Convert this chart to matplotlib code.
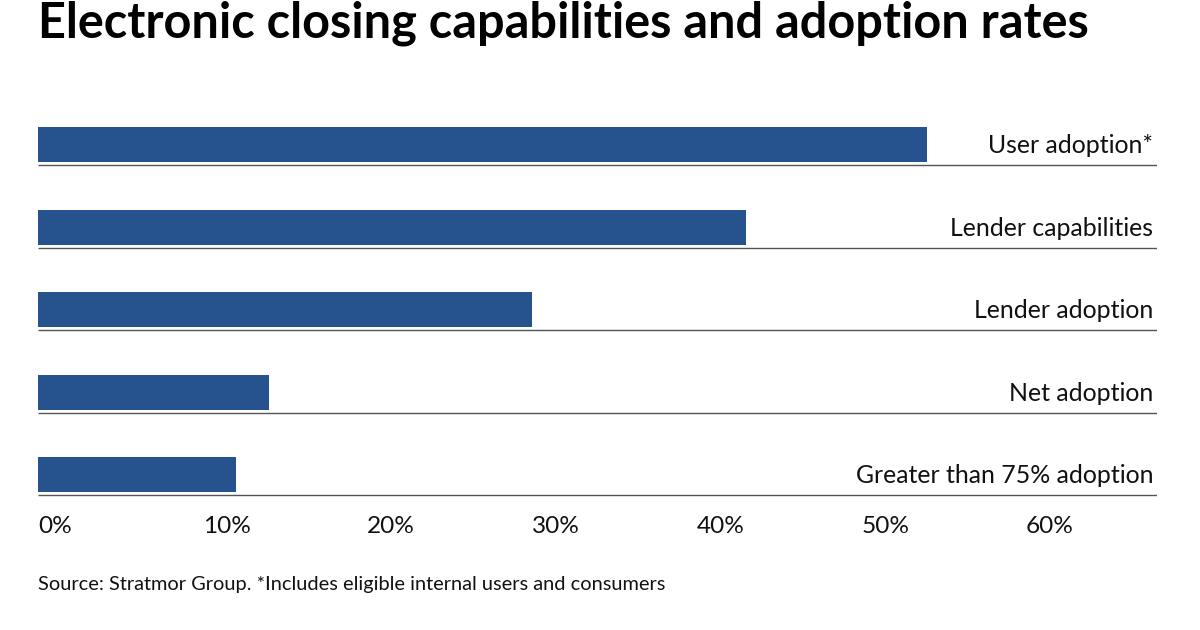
"""Electronic closing capabilities and adoption rates — horizontal bars."""

import matplotlib.pyplot as plt
import matplotlib.ticker as mticker

categories = [
    "User adoption*",
    "Lender capabilities",
    "Lender adoption",
    "Net adoption",
    "Greater than 75% adoption",
]
values = [54, 43, 30, 14, 12]
ticks = [0, 10, 20, 30, 40, 50, 60]

BAR_COL = "#26538d"
LINE_COL = "#555555"

plt.rcParams["font.family"] = ["Lato", "DejaVu Sans"]

fig = plt.figure(figsize=(12, 6.3), dpi=100)
ax = fig.add_axes([38 / 1200, 0.1806, (1157 - 38) / 1200, 0.6548])

ypos = list(range(len(categories)))
ax.barh(ypos, values, height=0.424, color=BAR_COL, edgecolor="none", zorder=2)
ax.hlines([y + 0.245 for y in ypos], 0, 1, transform=ax.get_yaxis_transform(),
          color=LINE_COL, linewidth=1.0, zorder=3)

label_x = (1153 - 38) / (1157 - 38)  # axes fraction, right edge of labels
for y, lab in zip(ypos, categories):
    ax.text(label_x, y + 0.1, lab, transform=ax.get_yaxis_transform(),
            ha="right", va="baseline", fontsize=17.9, color="#111111")

ax.set_xlim(0, 67.95)
ax.set_ylim(4.5, -0.5)
ax.set_xticks(ticks)
ax.xaxis.set_major_formatter(mticker.FuncFormatter(lambda v, p: f"{v:.0f}%"))
ax.tick_params(axis="x", length=0, labelsize=17.6, pad=0, labelcolor="#111111")
for t in ax.get_xticklabels():
    t.set_horizontalalignment("left")
ax.set_yticks([])
for s in ax.spines.values():
    s.set_visible(False)

fig.text(38 / 1200, 1 - 37 / 630, "Electronic closing capabilities and adoption rates",
         fontsize=35, fontweight="bold", ha="left", va="baseline", color="#000000")
fig.text(38 / 1200, 1 - 590 / 630,
         "Source: Stratmor Group. *Includes eligible internal users and consumers",
         fontsize=14.4, ha="left", va="baseline", color="#111111")

fig.savefig("out.png", dpi=100)
